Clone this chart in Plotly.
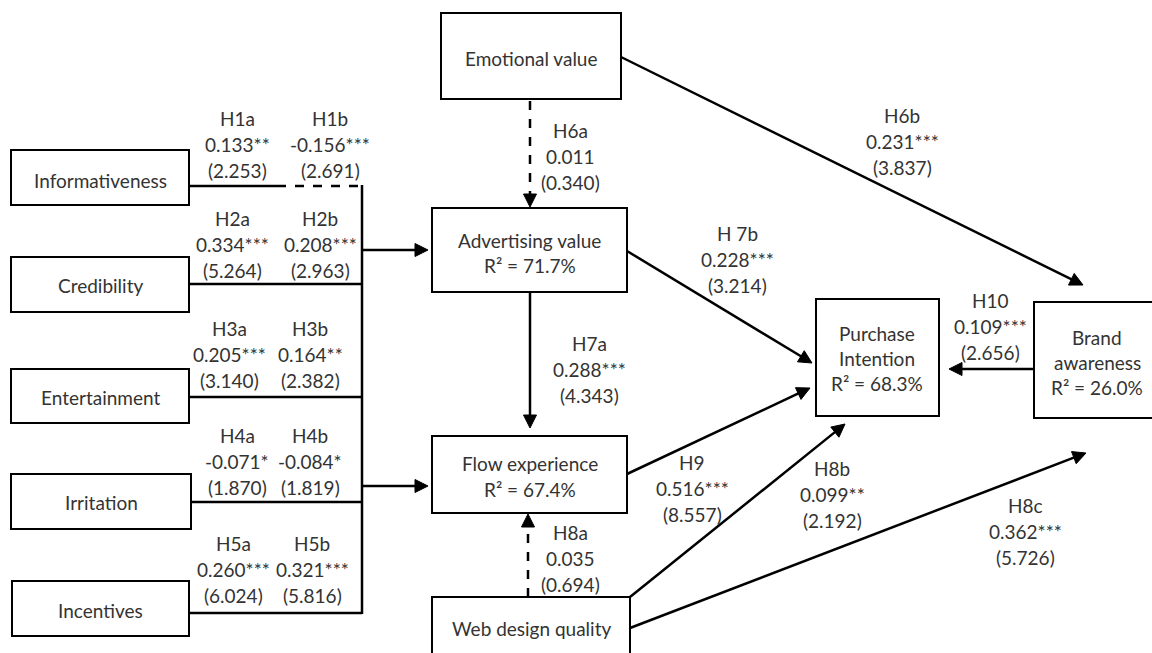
import math
import plotly.graph_objects as go

# ---------------- data ----------------
node_names = ["Informativeness", "Credibility", "Entertainment", "Irritation", "Incentives",
              "Emotional value", "Advertising value", "Flow experience", "Web design quality",
              "Purchase Intention", "Brand awareness"]
r_squared = [None, None, None, None, None, None, 71.7, 67.4, None, 68.3, 26.0]

hyp_labels = ["H1a", "H1b", "H2a", "H2b", "H3a", "H3b", "H4a", "H4b", "H5a", "H5b",
              "H6a", "H6b", "H 7b", "H7a", "H9", "H8a", "H8b", "H8c", "H10"]
path_coef = [0.133, -0.156, 0.334, 0.208, 0.205, 0.164, -0.071, -0.084, 0.260, 0.321,
             0.011, 0.231, 0.228, 0.288, 0.516, 0.035, 0.099, 0.362, 0.109]
signif = ["**", "***", "***", "***", "***", "**", "*", "*", "***", "***",
          "", "***", "***", "***", "***", "", "**", "***", "***"]
t_values = [2.253, 2.691, 5.264, 2.963, 3.140, 2.382, 1.870, 1.819, 6.024, 5.816,
            0.340, 3.837, 3.214, 4.343, 8.557, 0.694, 2.192, 5.726, 2.656]

# ---------------- layout (pixel space) ----------------
W, H = 1152, 653
FONT = "Lato, Open Sans, sans-serif"
TXT = "#333333"
FS = 19
LINE = 26

box_geom = {
    "Informativeness": (11, 150, 189, 205),
    "Credibility": (11, 257, 189, 312),
    "Entertainment": (11, 369, 189, 423),
    "Irritation": (11, 474, 191, 529),
    "Incentives": (12, 581, 189, 636),
    "Emotional value": (441, 13, 621, 99),
    "Advertising value": (432, 208, 627, 292),
    "Flow experience": (432, 436, 627, 513),
    "Web design quality": (432, 597, 630, 665),
    "Purchase Intention": (816, 299, 939, 416),
    "Brand awareness": (1034, 302, 1165, 418),
}
box_text_y = {
    "Informativeness": [180], "Credibility": [285], "Entertainment": [397],
    "Irritation": [502], "Incentives": [610], "Emotional value": [58],
    "Advertising value": [240, 265], "Flow experience": [463, 489],
    "Web design quality": [628], "Purchase Intention": [333, 358, 383],
    "Brand awareness": [337, 362, 387],
}
box_text_x = {"Brand awareness": 1097, "Purchase Intention": 877}

label_pos = {
    "H1a": (237, 118), "H1b": (330, 118), "H2a": (232, 218), "H2b": (320, 218),
    "H3a": (229, 328), "H3b": (310, 328), "H4a": (237, 435), "H4b": (310, 435),
    "H5a": (233, 543), "H5b": (312, 543), "H6a": (570, 130), "H6b": (902, 115),
    "H 7b": (737, 233), "H7a": (589, 343), "H9": (692, 462), "H8a": (570, 532),
    "H8b": (832, 468), "H8c": (1025, 505), "H10": (990, 300),
}

BUS_X = 362
feeder_y = [186, 284, 397, 502, 613]
feeder_x0 = [189, 189, 189, 191, 189]

# arrows: (x_tail, y_tail, x_head, y_head)
solid_arrows = [
    (BUS_X, 250, 428, 250),     # bus -> Advertising value
    (BUS_X, 486, 428, 486),     # bus -> Flow experience
    (530, 292, 530, 428),       # H7a
    (621, 57, 1083, 285),       # H6b
    (627, 251, 812, 363),       # H7b
    (627, 474, 810, 388),       # H9
    (630, 597, 845, 424),       # H8b
    (630, 628, 1086, 453),      # H8c
    (1034, 369, 949, 369),      # H10
]
dashed_arrows = [
    (530, 101, 530, 207),       # H6a
    (528, 597, 528, 514),       # H8a
]

fig = go.Figure()
fig.add_trace(go.Scatter(x=[0, W], y=[0, H], mode="markers",
                         marker=dict(opacity=0), hoverinfo="skip", showlegend=False))

shapes = []
annotations = []

# boxes
for i, name in enumerate(node_names):
    x0, y0, x1, y1 = box_geom[name]
    shapes.append(dict(type="rect", x0=x0, y0=y0, x1=x1, y1=y1,
                       line=dict(color="black", width=2), fillcolor="white", layer="above"))
    lines = name.split(" ") if name in ("Purchase Intention", "Brand awareness") else [name]
    if r_squared[i] is not None:
        lines = lines + [f"R\u00b2 = {r_squared[i]:.1f}%"]
    cx = box_text_x.get(name, (x0 + x1) / 2)
    for ln, ty in zip(lines, box_text_y[name]):
        annotations.append(dict(x=cx, y=ty, text=ln, showarrow=False,
                                xanchor="center", yanchor="middle",
                                font=dict(family=FONT, size=FS, color=TXT)))

# feeder lines into bus
for k, (fy, fx0) in enumerate(zip(feeder_y, feeder_x0)):
    if k == 0:
        shapes.append(dict(type="line", x0=fx0, y0=fy, x1=277, y1=fy,
                           line=dict(color="black", width=2.5)))
        shapes.append(dict(type="line", x0=277, y0=fy, x1=BUS_X, y1=fy,
                           line=dict(color="black", width=2.5, dash="dash")))
    else:
        shapes.append(dict(type="line", x0=fx0, y0=fy, x1=BUS_X, y1=fy,
                           line=dict(color="black", width=2.5)))
shapes.append(dict(type="line", x0=BUS_X, y0=feeder_y[0] - 1, x1=BUS_X, y1=feeder_y[-1] + 1,
                   line=dict(color="black", width=2.5)))

HEAD_L, HEAD_W = 13, 6.5


def add_arrow(xt, yt, xh, yh, dash="solid"):
    dx, dy = xh - xt, yh - yt
    L = math.hypot(dx, dy)
    ux, uy = dx / L, dy / L
    bx, by = xh - ux * HEAD_L, yh - uy * HEAD_L
    shapes.append(dict(type="line", x0=xt, y0=yt, x1=bx + ux * 2, y1=by + uy * 2,
                       line=dict(color="black", width=2.5, dash=dash)))
    px, py = -uy, ux
    p1 = (bx + px * HEAD_W, by + py * HEAD_W)
    p2 = (bx - px * HEAD_W, by - py * HEAD_W)
    path = f"M {xh},{yh} L {p1[0]:.2f},{p1[1]:.2f} L {p2[0]:.2f},{p2[1]:.2f} Z"
    shapes.append(dict(type="path", path=path, fillcolor="black",
                       line=dict(color="black", width=1)))


for a in solid_arrows:
    add_arrow(*a)
for a in dashed_arrows:
    add_arrow(*a, dash="dash")

# path labels
for h, c, s, t in zip(hyp_labels, path_coef, signif, t_values):
    lx, ly = label_pos[h]
    for j, ln in enumerate([h, f"{c:.3f}{s}", f"({t:.3f})"]):
        annotations.append(dict(x=lx, y=ly + j * LINE, text=ln, showarrow=False,
                                xanchor="center", yanchor="middle",
                                font=dict(family=FONT, size=FS, color=TXT)))

fig.update_layout(
    width=W, height=H, margin=dict(l=0, r=0, t=0, b=0),
    paper_bgcolor="white", plot_bgcolor="white",
    xaxis=dict(range=[0, W], visible=False, fixedrange=True),
    yaxis=dict(range=[H, 0], visible=False, fixedrange=True),
    shapes=shapes, annotations=annotations, showlegend=False,
)
fig.write_html("out.html")
